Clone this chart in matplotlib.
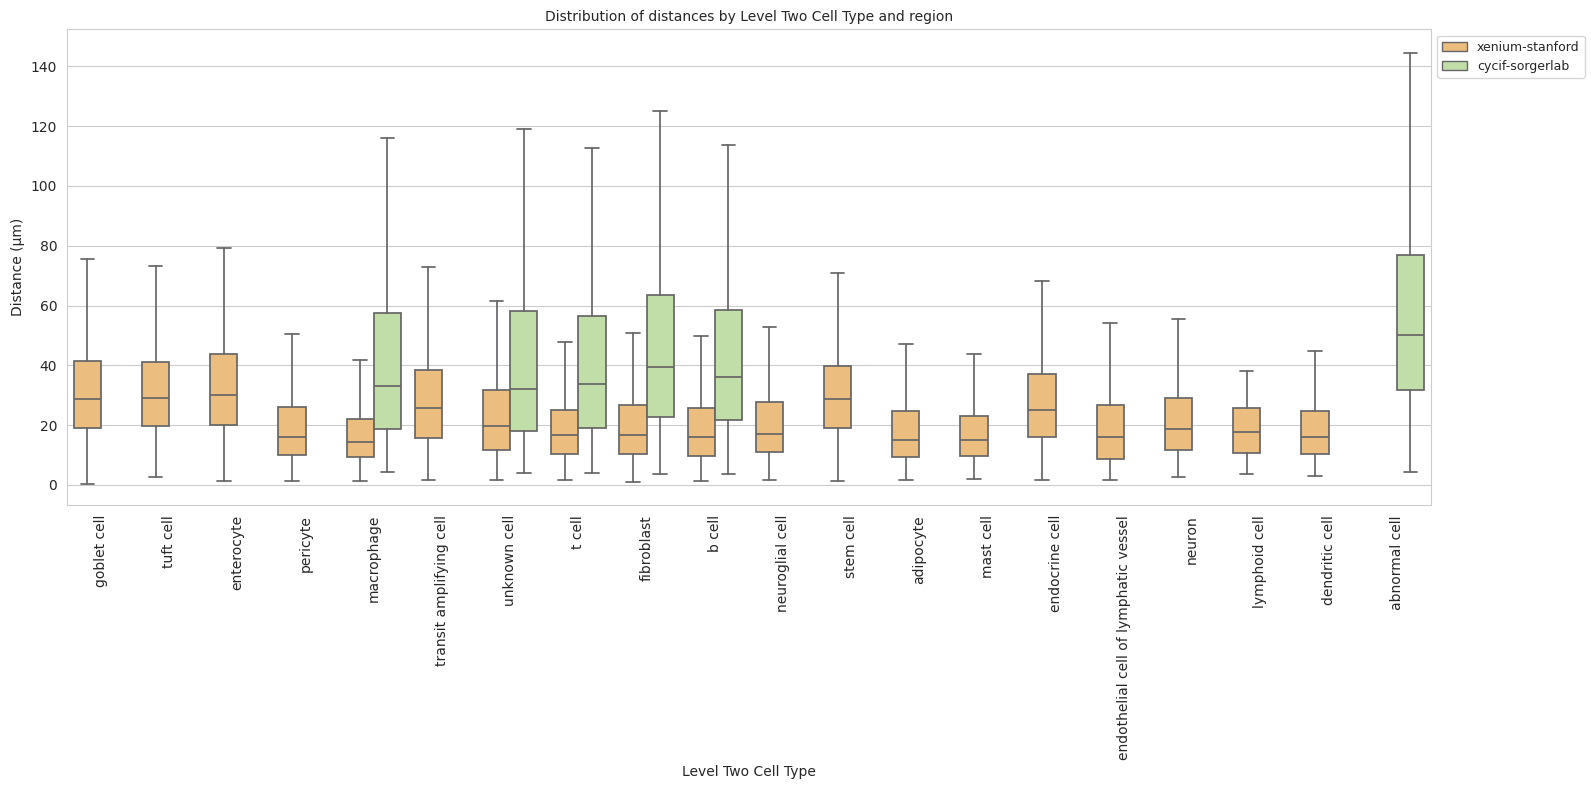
import matplotlib
matplotlib.use("Agg")
import matplotlib.pyplot as plt
import seaborn as sns
from matplotlib.patches import Patch

sns.set_style("whitegrid")

# === Data ===
cell_types = ['goblet cell', 'tuft cell', 'enterocyte', 'pericyte', 'macrophage',
              'transit amplifying cell', 'unknown cell', 't cell', 'fibroblast', 'b cell',
              'neuroglial cell', 'stem cell', 'adipocyte', 'mast cell', 'endocrine cell',
              'endothelial cell of lymphatic vessel', 'neuron', 'lymphoid cell',
              'dendritic cell', 'abnormal cell']

# xenium-stanford box stats (None = no data)
xen_whislo = [0.3, 2.7, 1.2, 1.2, 1.2, 1.6, 1.6, 1.6, 0.9, 1.2, 1.6, 1.2, 1.6, 1.9, 1.6, 1.6, 2.6, 3.6, 2.9, None]
xen_q1 = [19.0, 19.6, 20.2, 10.0, 9.3, 15.7, 11.6, 10.2, 10.2, 9.6, 10.9, 19.2, 9.2, 9.6, 16.2, 8.6, 11.6, 10.6, 10.2, None]
xen_med = [28.9, 29.2, 30.2, 16.0, 14.2, 25.6, 19.6, 16.6, 16.6, 15.9, 17.2, 28.6, 15.2, 15.2, 25.2, 15.9, 18.6, 17.6, 15.9, None]
xen_q3 = [41.6, 41.2, 43.9, 26.2, 22.2, 38.6, 31.6, 25.2, 26.6, 25.6, 27.6, 39.9, 24.6, 23.2, 37.2, 26.9, 29.2, 25.6, 24.6, None]
xen_whishi = [75.6, 73.2, 79.2, 50.6, 41.9, 72.9, 61.6, 47.9, 50.9, 49.9, 52.9, 70.9, 47.2, 43.9, 68.2, 54.2, 55.6, 38.2, 44.9, None]

# cycif-sorgerlab box stats
cyc_names = ['macrophage', 'unknown cell', 't cell', 'fibroblast', 'b cell', 'abnormal cell']
cyc_whislo = [4.2, 3.9, 3.9, 3.6, 3.6, 4.2]
cyc_q1 = [18.7, 18.2, 19.2, 22.7, 21.6, 31.6]
cyc_med = [33.2, 32.2, 33.6, 39.6, 36.2, 50.2]
cyc_q3 = [57.6, 58.2, 56.6, 63.6, 58.6, 76.9]
cyc_whishi = [116.2, 118.9, 112.6, 125.2, 113.6, 144.6]

xen_color = '#ebbd7e'
cyc_color = '#c1dda8'
line_color = '#666666'

fig, ax = plt.subplots(figsize=(15.91, 7.91), dpi=100)
fig.subplots_adjust(left=0.0421, right=0.8993, top=0.963, bottom=0.3612)

# build stats dicts for bxp
xen_stats, xen_pos = [], []
for i, name in enumerate(cell_types):
    if xen_med[i] is None:
        continue
    xen_stats.append(dict(whislo=xen_whislo[i], q1=xen_q1[i], med=xen_med[i],
                          q3=xen_q3[i], whishi=xen_whishi[i], fliers=[]))
    xen_pos.append(i - 0.2)

cyc_stats, cyc_pos = [], []
for j, name in enumerate(cyc_names):
    cyc_stats.append(dict(whislo=cyc_whislo[j], q1=cyc_q1[j], med=cyc_med[j],
                          q3=cyc_q3[j], whishi=cyc_whishi[j], fliers=[]))
    cyc_pos.append(cell_types.index(name) + 0.2)

for stats, pos, col in [(xen_stats, xen_pos, xen_color), (cyc_stats, cyc_pos, cyc_color)]:
    ax.bxp(stats, positions=pos, widths=0.4, capwidths=0.2, showfliers=False,
           patch_artist=True, manage_ticks=False,
           boxprops=dict(facecolor=col, edgecolor=line_color, linewidth=1.25),
           medianprops=dict(color=line_color, linewidth=1.25),
           whiskerprops=dict(color=line_color, linewidth=1.25),
           capprops=dict(color=line_color, linewidth=1.25))

ax.set_xlim(-0.5, len(cell_types) - 0.5)
ax.set_ylim(-6.8, 152.4)
ax.set_xticks(range(len(cell_types)))
ax.set_xticklabels(cell_types, rotation=90)
ax.set_yticks(range(0, 141, 20))
ax.grid(axis='x', visible=False)
ax.set_axisbelow(True)

ax.set_title('Distribution of distances by Level Two Cell Type and region', fontsize=10)
ax.set_xlabel('Level Two Cell Type')
ax.set_ylabel('Distance (µm)')

handles = [Patch(facecolor=xen_color, edgecolor=line_color, label='xenium-stanford'),
           Patch(facecolor=cyc_color, edgecolor=line_color, label='cycif-sorgerlab')]
ax.legend(handles=handles, loc='upper left', bbox_to_anchor=(1, 1), fontsize=9)

fig.savefig('out.png', dpi=100)
